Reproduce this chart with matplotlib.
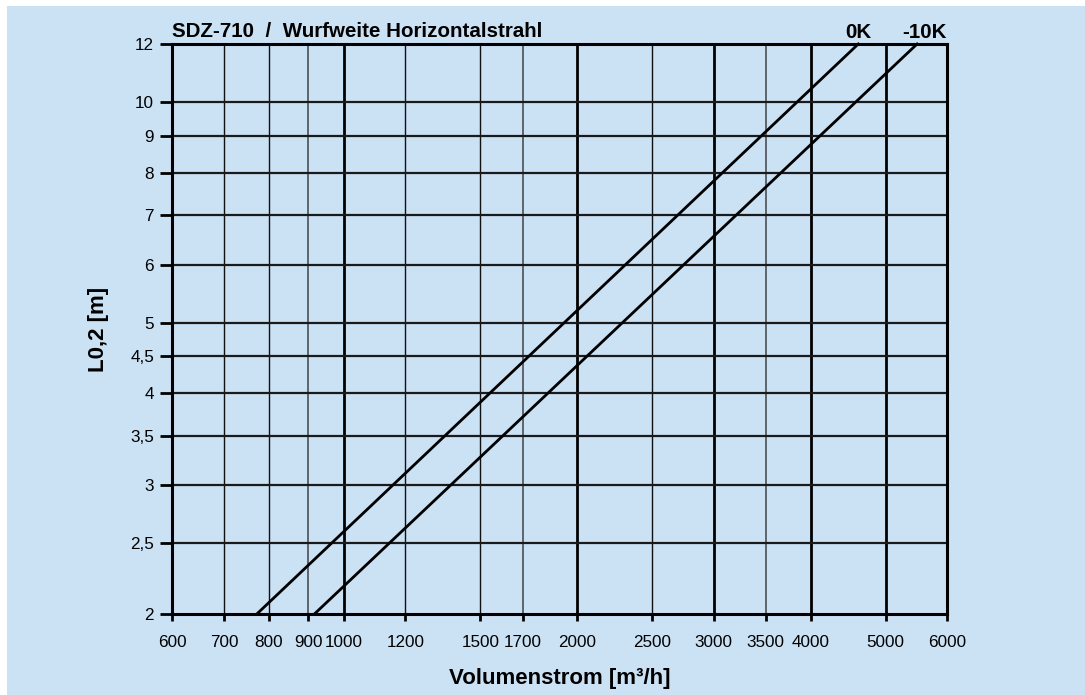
import numpy as np
import matplotlib
matplotlib.use('Agg')
import matplotlib.pyplot as plt
from matplotlib.patches import Rectangle

plt.rcParams['font.family'] = ['Liberation Sans', 'DejaVu Sans']

## Wurfweite lines (start / end)
vol_0k = [772, 4610]
l_0k = [2, 12]
vol_m10k = [916, 5490]
l_m10k = [2, 12]

x_ticks = [600, 700, 800, 900, 1000, 1200, 1500, 1700, 2000, 2500, 3000, 3500, 4000, 5000, 6000]
x_labels = [str(v) for v in x_ticks]
y_ticks = [2, 2.5, 3, 3.5, 4, 4.5, 5, 6, 7, 8, 9, 10, 12]
y_labels = ['2', '2,5', '3', '3,5', '4', '4,5', '5', '6', '7', '8', '9', '10', '12']

x_major = [1000, 2000, 3000, 4000, 5000]
x_minor = [700, 800, 1200, 1500, 2500]
x_minor_grey = [900, 1700, 3500]

bg = '#cbe1f4'

fig = plt.figure(figsize=(10.85, 6.95), dpi=100)
fig.patch.set_facecolor('white')
fig.patches.append(Rectangle((7 / 1085, 0), 1, 1 - 6 / 695, transform=fig.transFigure,
                             facecolor=bg, edgecolor='none', zorder=-10))

ax = fig.add_axes([172 / 1085, 1 - 614 / 695, 775 / 1085, 570 / 695])
ax.set_facecolor(bg)
ax.set_xscale('log')
ax.set_yscale('log')
ax.set_xlim(600, 6000)
ax.set_ylim(2, 12)

for v in x_major:
    ax.axvline(v, color='black', lw=2.0, zorder=1)
for v in x_minor:
    ax.axvline(v, color='#111111', lw=1.0, zorder=1)
for v in x_minor_grey:
    ax.axvline(v, color='#555a60', lw=1.3, zorder=1)
for v in y_ticks[1:-1]:
    ax.axhline(v, color='#1a1a1a', lw=1.6, zorder=1)

ax.plot(vol_0k, l_0k, color='black', lw=2.0, zorder=3, clip_on=False)
ax.plot(vol_m10k, l_m10k, color='black', lw=2.0, zorder=3, clip_on=False)

ax.set_xticks(x_ticks, x_labels)
ax.set_yticks(y_ticks, y_labels)
ax.minorticks_off()
ax.tick_params(axis='x', length=5, width=2, pad=10, labelsize=12.3, colors='black')
ax.tick_params(axis='y', length=9, width=2, pad=4, labelsize=12.3, colors='black')
for s in ax.spines.values():
    s.set_linewidth(2.2)

ax.set_xlabel('Volumenstrom [m³/h]', fontsize=16, fontweight='bold', labelpad=13)
ax.set_ylabel('L0,2 [m]', fontsize=16, fontweight='bold', labelpad=15)

ax.text(0.0, 1.006, 'SDZ-710  /  Wurfweite Horizontalstrahl', transform=ax.transAxes,
        fontsize=14.8, fontweight='bold', ha='left', va='bottom')
ax.text(4610, 12.07, '0K', fontsize=14.8, fontweight='bold', ha='center', va='bottom')
ax.text(6000, 12.07, '-10K', fontsize=14.8, fontweight='bold', ha='right', va='bottom')

fig.savefig('out.png', dpi=100, facecolor=fig.get_facecolor())
